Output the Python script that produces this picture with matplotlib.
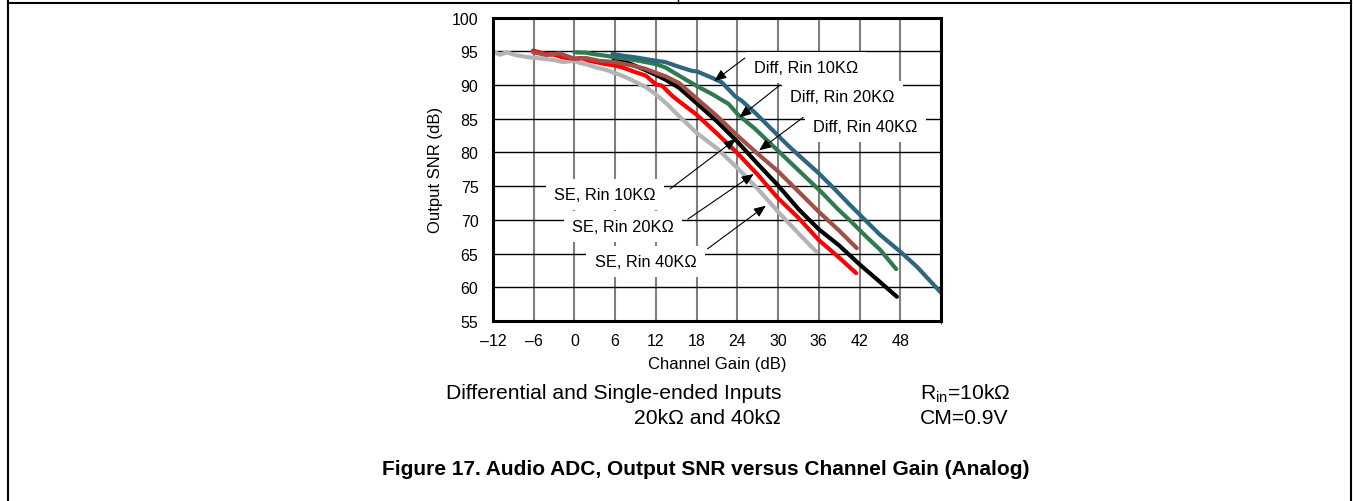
import matplotlib
matplotlib.use("Agg")
import matplotlib.pyplot as plt
from matplotlib.lines import Line2D

plt.rcParams['font.family'] = ['Liberation Sans', 'DejaVu Sans']
plt.rcParams['mathtext.fontset'] = 'custom'
plt.rcParams['mathtext.rm'] = 'Liberation Sans'

# ---------------- data ----------------
se40_x = [-12, -11, -10, -8.5, -6.6, -5, -3, -1.7, 0, 0.7, 2, 3.2, 4.5, 5.6, 7, 8.1, 9.5,
          10.5, 12, 13.4, 15.4, 18, 21, 24, 27, 30, 33, 35.6]
se40_y = [95.0, 94.5, 94.85, 94.4, 94.1, 93.95, 93.7, 93.4, 93.6, 93.3, 93.0, 92.6, 92.3,
          91.9, 91.4, 90.9, 90.2, 89.7, 88.6, 87.4, 85.4, 82.9, 80.6, 77.7, 74.6, 71.2, 68.0, 65.3]

se20_x = [-6.1, -5, -4.1, -3, -1.7, 0, 1, 2.2, 4.6, 6, 7.1, 9, 10.5, 12, 12.9, 14.4, 15.4,
          18, 21, 24, 27, 30, 33, 36, 39, 41.5]
se20_y = [95.1, 94.8, 94.6, 94.5, 94.1, 93.9, 94.0, 93.6, 93.1, 92.9, 92.6, 91.9, 91.4, 90.1,
          89.9, 88.4, 87.6, 85.6, 82.8, 79.9, 76.7, 73.2, 70.3, 67.0, 64.4, 62.1]

diff40_x = [-6.1, -4.1, -2.2, 0, 1.7, 3.6, 6, 8.5, 10.5, 12, 13.4, 15.4, 18, 21, 24, 27, 30,
            33, 36, 39, 41.6]
diff40_y = [94.85, 94.45, 94.7, 93.9, 94.0, 93.6, 93.4, 92.9, 92.4, 91.8, 91.3, 90.3, 88.0,
            85.4, 82.5, 79.8, 77.2, 74.2, 71.2, 68.4, 65.8]

se10_x = [5.8, 8.1, 10.5, 12, 13.4, 15.4, 18, 21, 24, 27, 30, 33, 36, 39, 42, 45, 47.5]
se10_y = [93.8, 93.2, 92.2, 91.5, 90.8, 89.6, 87.3, 84.6, 81.6, 78.3, 75.1, 71.6, 68.6,
          66.2, 63.4, 60.8, 58.6]

diff20_x = [0, 1.7, 2.7, 4.6, 6, 7.6, 9.5, 12, 13.4, 15.4, 18.3, 20.2, 22.7, 24.1, 26.6, 29,
            31.5, 33.9, 36.4, 38.8, 40.7, 43, 45, 47.4]
diff20_y = [94.85, 94.8, 94.6, 94.35, 94.1, 93.9, 93.6, 93.1, 92.6, 91.4, 89.7, 88.7, 87.2,
            85.6, 83.5, 81.2, 78.8, 76.5, 74.1, 71.6, 69.8, 67.5, 65.6, 62.7]

diff10_x = [5.6, 7.1, 9, 12, 13.4, 15.4, 17.3, 18.1, 20.2, 21.7, 23.7, 24.6, 26.6, 29, 31.5,
            33.9, 35.9, 38.3, 40.7, 42.7, 45, 48.1, 50.5, 54]
diff10_y = [94.6, 94.35, 94.1, 93.6, 93.4, 92.7, 92.1, 92.0, 91.1, 90.4, 88.3, 87.7, 85.9,
            83.5, 81.0, 78.8, 77.0, 74.6, 72.1, 70.1, 67.8, 65.2, 63.0, 59.2]

series = [
    (se40_x, se40_y, '#B3B3B3'),
    (se20_x, se20_y, '#FF0000'),
    (se10_x, se10_y, '#000000'),
    (diff40_x, diff40_y, '#A24F49'),
    (diff20_x, diff20_y, '#2F7A4F'),
    (diff10_x, diff10_y, '#2E6681'),
]

x_ticks = [-12, -6, 0, 6, 12, 18, 24, 30, 36, 42, 48]
x_tick_labels = ['\u201312', '\u20136', '0', '6', '12', '18', '24', '30', '36', '42', '48']
y_ticks = [55, 60, 65, 70, 75, 80, 85, 90, 95, 100]

labels = ['Diff, Rin 10K\u03a9', 'Diff, Rin 20K\u03a9', 'Diff, Rin 40K\u03a9',
          'SE, Rin 10K\u03a9', 'SE, Rin 20K\u03a9', 'SE, Rin 40K\u03a9']
label_xy = [(34.1, 92.6), (39.5, 88.3), (42.9, 83.9), (4.46, 73.8), (7.17, 69.0), (10.46, 63.8)]
arrow_from = [(25.1, 94.0), (30.3, 90.0), (33.7, 85.2), (14.1, 74.6), (16.7, 70.1), (19.6, 65.7)]
arrow_to = [(20.6, 90.6), (24.3, 85.2), (27.2, 80.3), (23.8, 82.0), (26.4, 76.8), (28.2, 72.1)]

# ---------------- figure ----------------
W, H = 1353, 502
fig = plt.figure(figsize=(W / 100, H / 100), dpi=100)
ax = fig.add_axes([493 / W, 1 - 322 / H, (941 - 493) / W, (322 - 18.6) / H])

for xs, ys, c in series:
    ax.plot(xs, ys, color=c, lw=3.0, solid_joinstyle='round', solid_capstyle='round', zorder=3)

ax.set_xlim(-12, 54)
ax.set_ylim(55, 100)
ax.set_xticks(x_ticks)
ax.set_xticklabels(x_tick_labels)
ax.set_yticks(y_ticks)
ax.tick_params(axis='both', length=0, labelsize=11.5)
ax.tick_params(axis='y', pad=10.5)
ax.tick_params(axis='x', pad=9)
ax.set_xticks([54], minor=True)
ax.xaxis.grid(True, which='both', color='#7F7F7F', lw=1.5, zorder=1)
ax.yaxis.grid(True, color='black', lw=1.0, zorder=1)
ax.set_axisbelow(True)
for s in ax.spines.values():
    s.set_linewidth(2.2)
    s.set_color('black')
    s.set_zorder(5)

ax.set_ylabel('Output SNR (dB)', fontsize=12, va='center')
ax.yaxis.set_label_coords(-0.128, 0.5)
ax.set_xlabel('Channel Gain (dB)', fontsize=12, va='center')
ax.xaxis.set_label_coords(0.5, -0.14)

for lab, (tx, ty), a0, a1 in zip(labels, label_xy, arrow_from, arrow_to):
    ax.text(tx, ty, lab, ha='center', va='center', fontsize=11.8, zorder=4,
            bbox=dict(boxstyle='square,pad=0.5', fc='white', ec='none'))
    ax.annotate('', xy=a1, xytext=a0, zorder=4,
                arrowprops=dict(arrowstyle='-|>,head_length=0.6,head_width=0.25',
                                mutation_scale=12, lw=0.8, color='black',
                                shrinkA=0, shrinkB=0))

# captions
def px(x, y):
    return x / W, 1 - y / H

fig.text(*px(781, 394), 'Differential and Single-ended Inputs', ha='right', va='center', fontsize=15.2)
fig.text(*px(781, 418), '20k\u03a9 and 40k\u03a9', ha='right', va='center', fontsize=15.2)
fig.text(*px(920, 394), 'R$_{\\mathregular{in}}$=10k\u03a9', ha='left', va='center', fontsize=15.2)
fig.text(*px(920, 418), 'CM=0.9V', ha='left', va='center', fontsize=15.2)
fig.text(*px(382, 470), 'Figure 17. Audio ADC, Output SNR versus Channel Gain (Analog)',
         ha='left', va='center', fontsize=15, fontweight='bold')

# page frame lines
lw_f = 1.5
fig.add_artist(Line2D([8 / W, 8 / W], [0, 1], transform=fig.transFigure, color='black', lw=lw_f))
fig.add_artist(Line2D([1351 / W, 1351 / W], [0, 1], transform=fig.transFigure, color='black', lw=lw_f))
fig.add_artist(Line2D([8 / W, 1351 / W], [1 - 3.5 / H, 1 - 3.5 / H], transform=fig.transFigure,
                      color='black', lw=lw_f))
fig.add_artist(Line2D([678 / W, 678 / W], [1, 1 - 3.5 / H], transform=fig.transFigure,
                      color='black', lw=1.0))

fig.savefig('out.png', dpi=100, facecolor='white')
